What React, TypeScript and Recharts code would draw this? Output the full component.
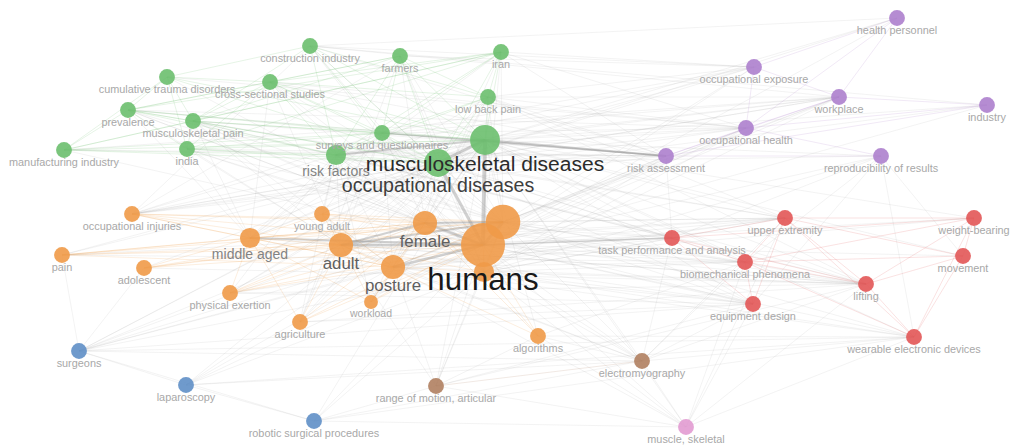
import React from 'react';
import { ScatterChart, Scatter, XAxis, YAxis, ZAxis, ReferenceLine } from 'recharts';

type Term = [string, string, number, number, number]; // id, label, mapX, mapY, occurrences

// clusters of the co-occurrence map
const greenTerms: Term[] = [
  ['con', 'construction industry', 310, 46, 13],
  ['far', 'farmers', 400, 56, 13],
  ['irn', 'iran', 501, 52, 13],
  ['ctd', 'cumulative trauma disorders', 167, 77, 13],
  ['css', 'cross-sectional studies', 270, 82, 13],
  ['lbp', 'low back pain', 488, 97, 13],
  ['prv', 'prevalence', 128, 110, 13],
  ['msp', 'musculoskeletal pain', 193, 121, 13],
  ['mfg', 'manufacturing industry', 64, 150, 13],
  ['ind', 'india', 187, 149, 13],
  ['svy', 'surveys and questionnaires', 382, 133, 13],
  ['rsk', 'risk factors', 336, 155, 21],
  ['msd', 'musculoskeletal diseases', 485, 140, 46],
  ['ocd', 'occupational diseases', 438, 163, 40],
];

const purpleTerms: Term[] = [
  ['hpe', 'health personnel', 897, 18, 13],
  ['oex', 'occupational exposure', 754, 67, 13],
  ['wkp', 'workplace', 839, 97, 13],
  ['ity', 'industry', 987, 105, 13],
  ['ohe', 'occupational health', 746, 128, 13],
  ['ras', 'risk assessment', 666, 156, 13],
  ['rep', 'reproducibility of results', 881, 156, 13],
];

const orangeTerms: Term[] = [
  ['oin', 'occupational injuries', 132, 214, 13],
  ['yad', 'young adult', 322, 214, 13],
  ['mid', 'middle aged', 250, 238, 21],
  ['pai', 'pain', 62, 255, 13],
  ['ado', 'adolescent', 144, 268, 13],
  ['pex', 'physical exertion', 230, 293, 13],
  ['agr', 'agriculture', 300, 322, 13],
  ['wld', 'workload', 371, 302, 10],
  ['alg', 'algorithms', 538, 336, 13],
  ['adu', 'adult', 341, 245, 30],
  ['fem', 'female', 425, 223, 30],
  ['pos', 'posture', 393, 267, 30],
  ['mal', 'male', 503, 222, 62],
  ['erg', 'ergonomics', 484, 272, 21],
  ['hum', 'humans', 483, 245, 100],
];

const redTerms: Term[] = [
  ['tpa', 'task performance and analysis', 672, 238, 13],
  ['upx', 'upper extremity', 785, 218, 13],
  ['wbr', 'weight-bearing', 974, 218, 13],
  ['mov', 'movement', 963, 256, 13],
  ['bio', 'biomechanical phenomena', 745, 262, 13],
  ['lif', 'lifting', 866, 284, 13],
  ['eqd', 'equipment design', 753, 304, 13],
  ['wed', 'wearable electronic devices', 914, 337, 13],
];

const blueTerms: Term[] = [
  ['sur', 'surgeons', 79, 351, 13],
  ['lap', 'laparoscopy', 186, 385, 13],
  ['rob', 'robotic surgical procedures', 314, 421, 13],
];

const brownTerms: Term[] = [
  ['emg', 'electromyography', 642, 361, 13],
  ['rom', 'range of motion, articular', 436, 386, 13],
];

const pinkTerms: Term[] = [['mus', 'muscle, skeletal', 686, 427, 13]];

// labels VOSviewer suppressed because they overlap bigger ones
const hiddenLabels = ['mal', 'erg'];

// co-occurrence links, listed per source term
const links: Record<string, string> = {
  hum: 'mal msd ocd fem adu pos erg rsk mid svy con far irn ctd css lbp prv msp mfg ind hpe oex wkp ity ohe ras rep oin yad pai ado pex agr wld alg tpa upx wbr mov bio lif eqd wed sur lap rob emg rom mus',
  mal: 'msd ocd fem adu pos erg rsk mid svy con far irn css lbp prv msp ind oex wkp ohe ras oin yad pai ado pex agr wld tpa upx bio lif eqd wed sur emg rom',
  msd: 'ocd fem adu pos erg rsk mid svy con far irn ctd css lbp prv msp mfg ind hpe oex wkp ity ohe ras rep oin yad pai ado pex agr wld alg tpa upx wbr mov bio lif eqd wed sur lap rob emg rom mus',
  ocd: 'fem adu pos erg rsk mid svy con far irn ctd css lbp prv msp mfg ind hpe oex wkp ohe ras rep oin yad pai pex agr wld tpa upx bio lif eqd sur',
  fem: 'adu pos erg rsk mid svy far irn css lbp prv msp ind oin yad pai ado pex agr wld alg tpa upx bio lif eqd sur lap emg',
  adu: 'pos erg rsk mid svy css lbp prv msp ind oin yad pai ado pex agr wld alg tpa upx bio lif eqd sur emg rom',
  pos: 'erg rsk mid svy lbp msp wkp ohe ras oin yad pai pex wld tpa upx wbr bio lif eqd wed sur lap emg rom mus',
  erg: 'rsk svy con far wkp ohe ras rep tpa upx bio lif eqd wed sur lap rob emg rom mus alg',
  rsk: 'mid svy con far irn css lbp prv msp mfg ind oex wkp ohe ras oin yad pex agr wld tpa lif',
  mid: 'svy irn css lbp prv msp ind oin yad pai ado pex agr wld lif',
  svy: 'con far irn css lbp prv msp mfg ind oex ohe wkp ras oin yad agr',
  con: 'ctd lbp msp oin wkp ras oex hpe ity',
  far: 'agr lbp prv css msp oin oex',
  irn: 'lbp prv css mfg ind msp ras ohe oex',
  ctd: 'prv mfg ind msp css ohe',
  css: 'prv msp ind lbp ohe ras',
  prv: 'msp mfg ind ras ohe',
  msp: 'mfg ind ras tpa upx',
  mfg: 'ras wkp',
  ind: 'ras',
  lbp: 'ras ohe oex wkp upx lif',
  oin: 'ohe ras wkp ity',
  pai: 'upx bio',
  ado: 'lif',
  pex: 'lif eqd upx',
  agr: 'eqd lif',
  alg: 'emg wed mus rom bio',
  wkp: 'hpe ity oex ohe ras',
  hpe: 'oex ohe',
  ohe: 'oex ras rep ity',
  ras: 'rep ity tpa',
  rep: 'tpa bio eqd wed mov',
  tpa: 'upx bio eqd lif wbr',
  upx: 'bio wbr mov eqd lif wed',
  bio: 'wbr mov lif eqd wed emg mus',
  lif: 'wbr mov wed',
  wbr: 'mov wed',
  mov: 'wed',
  sur: 'lap rob pai ado eqd wed emg',
  lap: 'rob emg wed',
  rob: 'emg mus wed',
  emg: 'mus rom wed eqd upx lif tpa',
  rom: 'mus rob eqd lif',
  mus: 'lif wed eqd upx',
};

// link strength for the heaviest pairs (others are 1)
const strongLinks: [string, string, number][] = [
  ['hum', 'msd', 4],
  ['hum', 'ocd', 3],
  ['msd', 'ocd', 3],
  ['hum', 'mal', 3],
  ['hum', 'fem', 2.5],
  ['hum', 'adu', 2.5],
  ['hum', 'pos', 2.5],
  ['mal', 'fem', 2],
  ['adu', 'fem', 2],
  ['hum', 'mid', 2],
  ['mal', 'adu', 2],
  ['msd', 'rsk', 2],
  ['msd', 'ras', 2],
  ['svy', 'ras', 1.5],
  ['hum', 'tpa', 1.5],
];

const clusterColors: Record<string, string> = {
  green: '#6cbf6e',
  purple: '#ad7fcd',
  orange: '#f09a48',
  red: '#e25656',
  blue: '#5f8fc6',
  brown: '#b07f60',
  pink: '#e29bd2',
};

const clusters: [string, Term[]][] = [
  ['green', greenTerms],
  ['purple', purpleTerms],
  ['orange', orangeTerms],
  ['red', redTerms],
  ['blue', blueTerms],
  ['brown', brownTerms],
  ['pink', pinkTerms],
];

const nodes = clusters.flatMap(([cluster, terms]) =>
  terms.map(([id, term, x, y, occ]) => ({ id, term, x, y, occ, cluster }))
);
const byId = Object.fromEntries(nodes.map((n) => [n.id, n]));

const edges = Object.entries(links).flatMap(([src, targets]) =>
  targets.split(' ').map((dst) => {
    const strong = strongLinks.find(
      ([a, b]) => (a === src && b === dst) || (a === dst && b === src)
    );
    return { a: byId[src], b: byId[dst], w: strong ? strong[2] : 1 };
  })
);

const FONT = '"Liberation Sans", Arial, sans-serif';

const NodeShape = (props: any) => {
  const { cx, cy, width, payload } = props;
  const r = width / 2;
  return (
    <circle
      cx={cx}
      cy={cy}
      r={r}
      fill={clusterColors[payload.cluster]}
      fillOpacity={0.9}
      style={{ filter: 'blur(0.5px)' }}
    />
  );
};

const LabelShape = (props: any) => {
  const { cx, cy, width, payload } = props;
  if (hiddenLabels.includes(payload.id)) return <g />;
  const r = width / 2;
  const fontSize = Math.max(10.5, 11 + (r - 8) * 1.45);
  const grey = Math.round(Math.max(25, Math.min(168, 168 - (r - 8) * 18)));
  return (
    <text
      x={cx}
      y={cy + r + fontSize * 0.4}
      textAnchor="middle"
      dominantBaseline="central"
      fontSize={fontSize}
      fontFamily={FONT}
      fill={`rgb(${grey},${grey},${grey})`}
    >
      {payload.term}
    </text>
  );
};

export default function App() {
  return (
    <div style={{ position: 'absolute', left: 0, top: 0, background: '#fff' }}>
      <ScatterChart width={1011} height={447} margin={{ top: 0, right: 0, bottom: 0, left: 0 }}>
        <XAxis type="number" dataKey="x" domain={[0, 1011]} hide />
        <YAxis type="number" dataKey="y" domain={[0, 447]} reversed hide />
        <ZAxis type="number" dataKey="occ" domain={[0, 100]} range={[0, 1520]} />
        {edges.map((e, i) => {
          const same = e.a.cluster === e.b.cluster && e.a.cluster !== 'blue';
          const color = e.w > 1 ? '#8c8c8c' : same ? clusterColors[e.a.cluster] : '#a8a8a8';
          return (
            <ReferenceLine
              key={i}
              segment={[
                { x: e.a.x, y: e.a.y },
                { x: e.b.x, y: e.b.y },
              ]}
              stroke={color}
              strokeOpacity={e.w > 1 ? 0.4 : same ? 0.22 : 0.17}
              strokeWidth={e.w > 1 ? e.w : 0.8}
              ifOverflow="visible"
            />
          );
        })}
        <Scatter data={nodes} shape={<NodeShape />} isAnimationActive={false} />
        <Scatter data={nodes} shape={<LabelShape />} isAnimationActive={false} />
      </ScatterChart>
    </div>
  );
}
